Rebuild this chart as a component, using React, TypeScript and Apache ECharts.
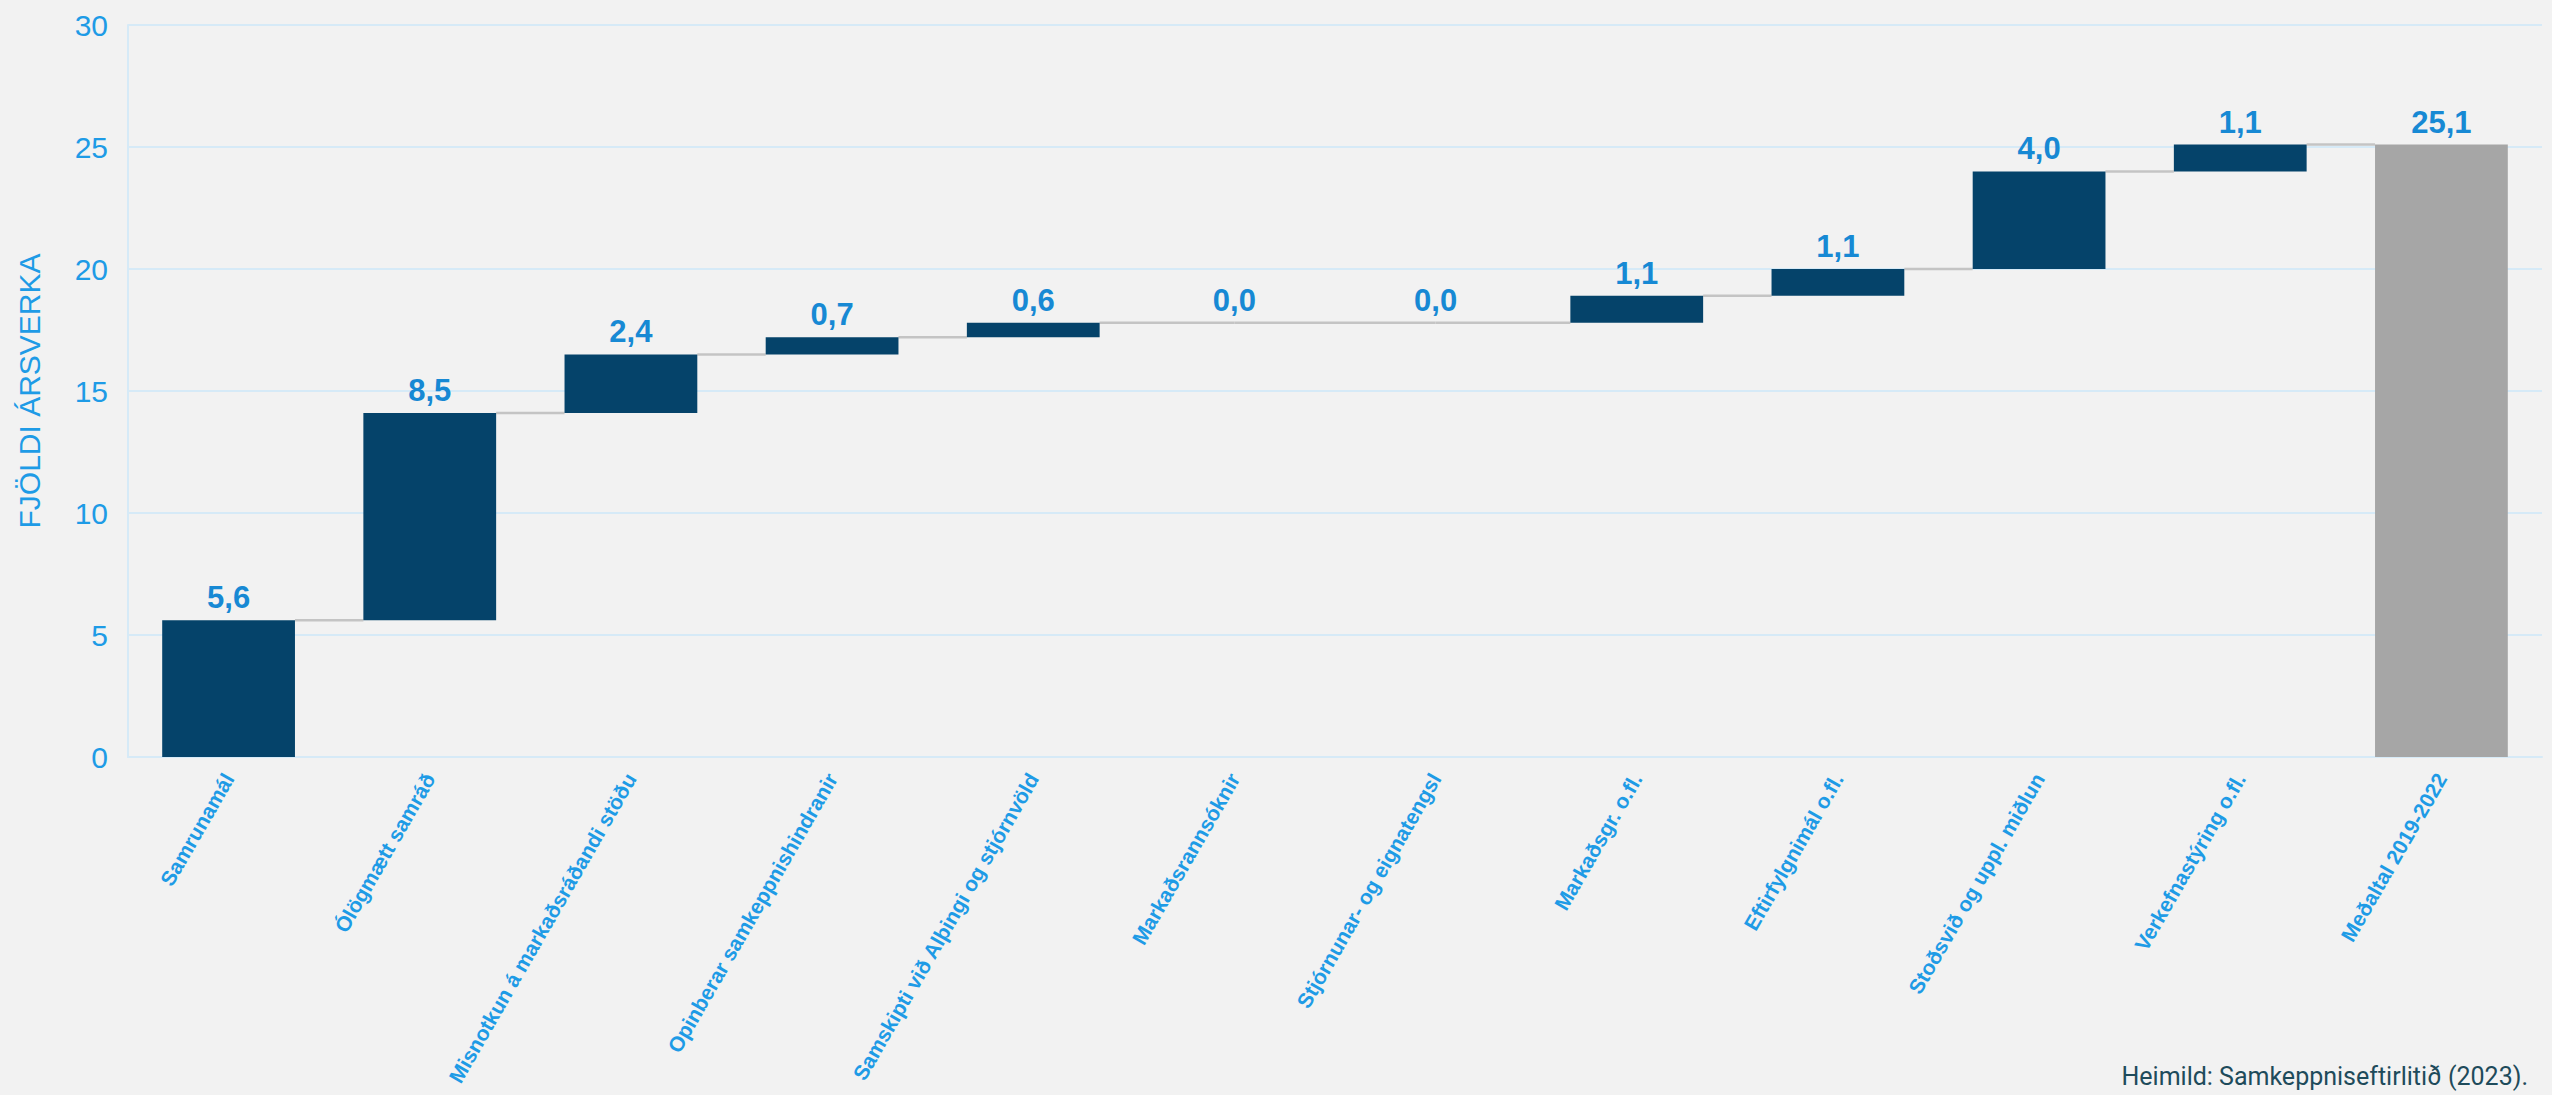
import React, { useEffect, useRef } from "react";
import * as echarts from "echarts";

const categories = [
  "Samrunamál",
  "Ólögmætt samráð",
  "Misnotkun á markaðsráðandi stöðu",
  "Opinberar samkeppnishindranir",
  "Samskipti við Alþingi og stjórnvöld",
  "Markaðsrannsóknir",
  "Stjórnunar- og eignatengsl",
  "Markaðsgr. o.fl.",
  "Eftirfylgnimál o.fl.",
  "Stoðsvið og uppl. miðlun",
  "Verkefnastýring o.fl.",
  "Meðaltal 2019-2022",
];
const increments = [5.6, 8.5, 2.4, 0.7, 0.6, 0.0, 0.0, 1.1, 1.1, 4.0, 1.1];
const totalValue = 25.1;
const yTicks = [0, 5, 10, 15, 20, 25, 30];
const yTitle = "FJÖLDI ÁRSVERKA";
const sourceText = "Heimild: Samkeppniseftirlitið (2023).";

const NAVY = "#05436a";
const GREY = "#a6a6a6";
const GRID = "#d6eaf7";
const TICK = "#1e9be6";
const VALUE = "#1789d4";
const BAR_FRAC = 0.66;

export default function App() {
  const ref = useRef<HTMLDivElement>(null);
  useEffect(() => {
    if (!ref.current) return;
    const chart = echarts.init(ref.current, undefined, { renderer: "svg" });

    const bases: number[] = [];
    const levels: number[] = [];
    let acc = 0;
    increments.forEach((v) => {
      bases.push(+acc.toFixed(2));
      acc += v;
      levels.push(+acc.toFixed(2));
    });
    bases.push(0);
    levels.push(totalValue);
    const heights = [...increments, totalValue];
    const visible = [
      ...increments.map((v) => ({ value: v, itemStyle: { color: NAVY } })),
      { value: totalValue, itemStyle: { color: GREY } },
    ];
    // [index, level, startsFromZeroBar, endsAtZeroBar]
    const connectors = levels
      .slice(0, -1)
      .map((lv, i) => [i, lv, heights[i] === 0 ? 1 : 0, heights[i + 1] === 0 ? 1 : 0]);

    chart.setOption({
      animation: false,
      backgroundColor: "#f2f2f2",
      grid: { left: 128, right: 10, top: 25, bottom: 338, containLabel: false },
      xAxis: {
        type: "category",
        data: categories,
        axisLine: { show: true, lineStyle: { color: GRID, width: 2 } },
        axisTick: { show: false },
        axisLabel: {
          interval: 0,
          rotate: 60,
          margin: 18,
          color: TICK,
          fontFamily: "Liberation Sans, Arial, sans-serif",
          fontWeight: "bold",
          fontSize: 21,
        },
      },
      yAxis: {
        type: "value",
        min: yTicks[0],
        max: yTicks[yTicks.length - 1],
        interval: 5,
        name: yTitle,
        nameLocation: "middle",
        nameGap: 84,
        nameTextStyle: {
          color: TICK,
          fontSize: 30,
          fontFamily: "Liberation Sans, Arial, sans-serif",
        },
        axisLine: { show: true, lineStyle: { color: GRID, width: 2 } },
        axisTick: { show: false },
        splitLine: { show: true, lineStyle: { color: GRID, width: 2 } },
        axisLabel: {
          color: TICK,
          fontSize: 30,
          margin: 20,
          fontFamily: "Liberation Sans, Arial, sans-serif",
        },
      },
      series: [
        {
          type: "custom",
          z: 1,
          silent: true,
          data: connectors,
          renderItem: (params: any, api: any) => {
            const i = api.value(0);
            const lv = api.value(1);
            const fromZero = api.value(2);
            const toZero = api.value(3);
            const p1 = api.coord([i, lv]);
            const p2 = api.coord([i + 1, lv]);
            const half = (api.size([1, 0])[0] * BAR_FRAC) / 2;
            return {
              type: "line",
              shape: {
                x1: p1[0] + (fromZero ? 0 : half),
                y1: p1[1],
                x2: p2[0] - (toZero ? 0 : half),
                y2: p2[1],
              },
              style: { stroke: "#c4c4c4", lineWidth: 2.5 },
            };
          },
        },
        {
          type: "bar",
          stack: "wf",
          barWidth: BAR_FRAC * 100 + "%",
          itemStyle: { color: "transparent" },
          silent: true,
          data: bases,
          z: 2,
        },
        {
          type: "bar",
          stack: "wf",
          barWidth: BAR_FRAC * 100 + "%",
          data: visible,
          z: 3,
          label: {
            show: true,
            position: "top",
            distance: 7,
            color: VALUE,
            fontWeight: "bold",
            fontSize: 31,
            fontFamily: "Liberation Sans, Arial, sans-serif",
            formatter: (p: any) => Number(p.value).toFixed(1).replace(".", ","),
          },
        },
      ],
      graphic: [
        {
          type: "text",
          right: 24,
          top: 1064,
          style: {
            text: sourceText,
            fill: "#1e4b5b",
            font: "25px Roboto, 'Noto Sans', sans-serif",
          },
        },
      ],
    });
    return () => chart.dispose();
  }, []);
  return (
    <div
      ref={ref}
      style={{ position: "fixed", left: 0, top: 0, width: 2552, height: 1095 }}
    />
  );
}
